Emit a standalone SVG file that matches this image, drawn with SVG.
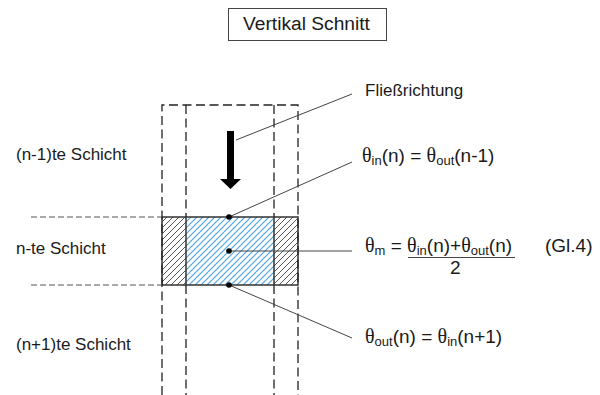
<svg xmlns="http://www.w3.org/2000/svg" width="600" height="395" viewBox="0 0 600 395">
<style>
text{font-family:"Liberation Sans",Arial,sans-serif;font-size:17px;fill:#1a1a1a}
.eq{font-size:19px}
.g{font-family:"Liberation Serif",serif;font-size:20px}
.s{font-size:13px}
.d{fill:none;stroke:#222;stroke-width:1.3;stroke-dasharray:9 4.500}
.h{fill:none;stroke:#555;stroke-width:1.1;stroke-dasharray:6 3}
.e{fill:none;stroke:#333;stroke-width:1.5}
.l{fill:none;stroke:#444;stroke-width:1}
</style>
<defs>
<pattern id="hk" width="6" height="6" patternUnits="userSpaceOnUse"><rect width="6" height="6" fill="#fff"/><path d="M-1 1L1 -1M-1 7L7 -1M5 7L7 5" stroke="#555" stroke-width="1"/></pattern>
<pattern id="hb" width="6" height="6" patternUnits="userSpaceOnUse"><rect width="6" height="6" fill="#fff"/><path d="M-1 1L1 -1M-1 7L7 -1M5 7L7 5" stroke="#4fa3e0" stroke-width="1.200"/></pattern>
</defs>
<g id="title"><rect x="228.500" y="8.500" width="158" height="32" fill="#fff" stroke="#444" stroke-width="1"/><text x="243" y="30" style="font-size:19.200px">Vertikal Schnitt</text></g>
<g id="labels">
<text x="16" y="160">(n-1)te Schicht</text>
<text x="16" y="254">n-te Schicht</text>
<text x="16" y="350">(n+1)te Schicht</text>
<text x="365" y="96">Fließrichtung</text>
</g>
<g id="cell">
<rect x="162" y="217" width="24" height="68" fill="url(#hk)"/>
<rect x="274" y="217" width="24" height="68" fill="url(#hk)"/>
<rect x="186" y="217" width="88" height="68" fill="url(#hb)"/>
<rect x="162" y="217" width="136" height="68" class="e"/>
<path d="M186 217V285M274 217V285" class="e"/>
</g>
<g id="connectors">
<path d="M162 395V105H298V395M186 105V217M186 285V395M274 105V217M274 285V395" class="d"/>
<path d="M31 217H162M31 285H162" class="h"/>
<path d="M236 140L352 94M229 217L352 162M229 251H352M229 285L352 338" class="l"/>
<circle cx="229" cy="217" r="2.800"/><circle cx="229" cy="251" r="2.800"/><circle cx="229" cy="285" r="2.800"/>
<path d="M227 131H234V179H241L230.500 189L220 179H227Z" fill="#000"/>
</g>
<g id="eq1"><text x="362" y="162" class="eq"><tspan class="g">θ</tspan><tspan class="s" dy="3">in</tspan><tspan dy="-3">(n) = </tspan><tspan class="g">θ</tspan><tspan class="s" dy="3">out</tspan><tspan dy="-3">(n-1)</tspan></text></g>
<g id="eq2"><text x="365" y="252" class="eq"><tspan class="g">θ</tspan><tspan class="s" dy="3">m</tspan><tspan dy="-3"> = </tspan><tspan class="g">θ</tspan><tspan class="s" dy="3">in</tspan><tspan dy="-3">(n)+</tspan><tspan class="g">θ</tspan><tspan class="s" dy="3">out</tspan><tspan dy="-3">(n)</tspan></text>
<path d="M408 257.500H515" stroke="#444" stroke-width="1.200" fill="none"/>
<text x="450" y="274" class="eq">2</text>
<text x="545" y="252" class="eq">(Gl.4)</text></g>
<g id="eq3"><text x="365" y="343" class="eq"><tspan class="g">θ</tspan><tspan class="s" dy="3">out</tspan><tspan dy="-3">(n) = </tspan><tspan class="g">θ</tspan><tspan class="s" dy="3">in</tspan><tspan dy="-3">(n+1)</tspan></text></g>
</svg>
